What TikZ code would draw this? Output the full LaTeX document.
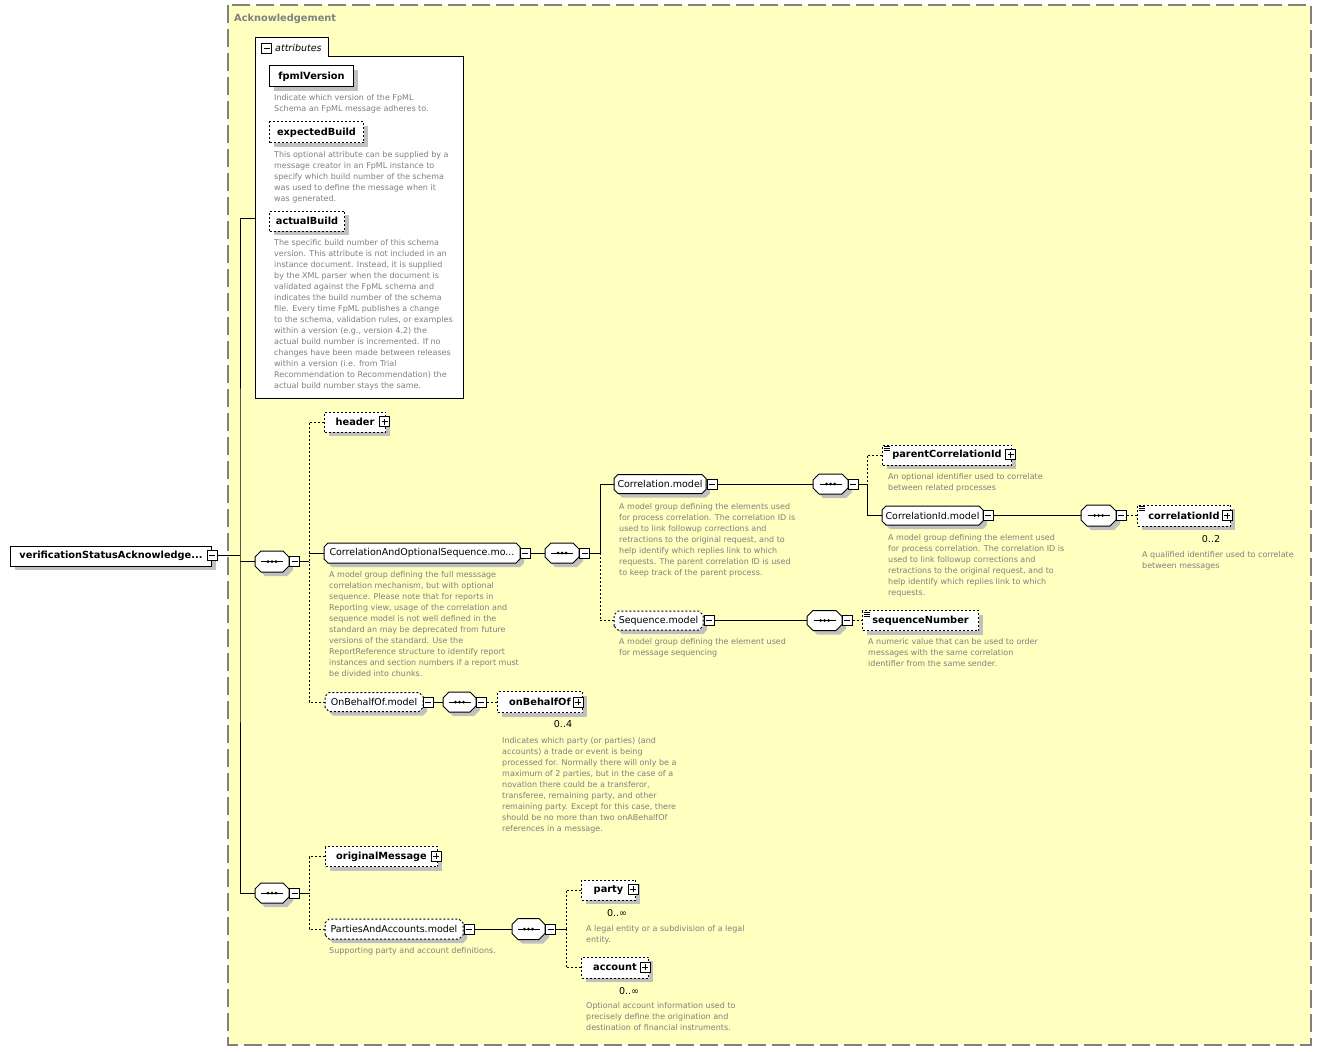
\documentclass[tikz,border=0pt]{standalone}
\usepackage{fontspec}
\setmainfont{DejaVu Sans}
\usetikzlibrary{shadows}
\definecolor{ackyellow}{RGB}{255,255,192}
\definecolor{framegray}{RGB}{128,128,128}
\definecolor{descgray}{RGB}{128,128,128}
\definecolor{shadowgray}{RGB}{192,192,192}
\newcommand{\lblfont}{\fontsize{9.8}{12}\selectfont}
\newcommand{\grpfont}{\fontsize{9.5}{12}\selectfont}
\newcommand{\dscfont}{\fontsize{8}{11}\selectfont}

\makeatletter
\newdimen\octL \newdimen\octR \newdimen\octB \newdimen\octT \newdimen\octC
\pgfkeys{/pgf/octbox cut/.initial=4pt}
\pgfdeclareshape{octbox}{%
  \inheritsavedanchors[from=rectangle]%
  \inheritanchorborder[from=rectangle]%
  \inheritanchor[from=rectangle]{center}%
  \inheritanchor[from=rectangle]{north}%
  \inheritanchor[from=rectangle]{south}%
  \inheritanchor[from=rectangle]{east}%
  \inheritanchor[from=rectangle]{west}%
  \inheritanchor[from=rectangle]{north west}%
  \inheritanchor[from=rectangle]{north east}%
  \inheritanchor[from=rectangle]{south west}%
  \inheritanchor[from=rectangle]{south east}%
  \inheritanchor[from=rectangle]{base}%
  \inheritanchor[from=rectangle]{mid}%
  \backgroundpath{%
    \southwest \octL=\pgf@x \octB=\pgf@y
    \northeast \octR=\pgf@x \octT=\pgf@y
    \pgfmathsetlength\octC{\pgfkeysvalueof{/pgf/octbox cut}}%
    \pgfpathmoveto{\pgfpoint{\octL}{\octB+\octC}}%
    \pgfpathlineto{\pgfpoint{\octL}{\octT-\octC}}%
    \pgfpathlineto{\pgfpoint{\octL+\octC}{\octT}}%
    \pgfpathlineto{\pgfpoint{\octR-\octC}{\octT}}%
    \pgfpathlineto{\pgfpoint{\octR}{\octT-\octC}}%
    \pgfpathlineto{\pgfpoint{\octR}{\octB+\octC}}%
    \pgfpathlineto{\pgfpoint{\octR-\octC}{\octB}}%
    \pgfpathlineto{\pgfpoint{\octL+\octC}{\octB}}%
    \pgfpathclose
  }%
}
\makeatother

\begin{document}
\begin{tikzpicture}[x=1pt,y=-1pt,
  myshadow/.style={drop shadow={shadow xshift=4pt,shadow yshift=-4pt,fill=shadowgray,opacity=1}},
  elem/.style={rectangle,draw,fill=white,line width=1pt,font=\lblfont\bfseries,
    minimum height=20pt,inner sep=0pt,anchor=west,myshadow},
  optelem/.style={elem,dash pattern=on 2pt off 2pt},
  group/.style={octbox,octbox cut=4pt,draw,fill=white,line width=1pt,font=\grpfont,
    minimum height=19pt,inner sep=0pt,outer sep=0pt,anchor=west,myshadow},
  optgroup/.style={group,dash pattern=on 2pt off 2pt},
  seqbox/.style={octbox,octbox cut=6pt,draw,fill=white,line width=1pt,minimum height=20pt,
    inner sep=0pt,outer sep=0pt,anchor=west,myshadow,
    path picture={\draw[solid,black,line width=1pt] ([xshift=-11]path picture bounding box.center)
      -- ([xshift=11]path picture bounding box.center);
      \foreach \d in {-4,0,4} \fill[black] ([xshift=\d]path picture bounding box.center) circle (1.5pt);}},
  minusbtn/.style={rectangle,draw,fill=white,line width=1pt,minimum size=10pt,inner sep=0pt,
    path picture={\draw[solid,line width=1pt] ([xshift=2]path picture bounding box.west)
      -- ([xshift=-2]path picture bounding box.east);}},
  plusbtn/.style={minusbtn,
    path picture={\draw[solid,line width=1pt] ([xshift=2]path picture bounding box.west)
      -- ([xshift=-2]path picture bounding box.east)
      ([yshift=2]path picture bounding box.south) -- ([yshift=-2]path picture bounding box.north);}},
  simple/.style={path picture={\foreach \k in {1.5,3.5,5.5}
      \draw[solid,line width=0.8pt] ([xshift=1,yshift=-\k]path picture bounding box.north west) -- ++(6pt,0);}},
  desc/.style={anchor=north west,align=left,inner sep=0pt,font=\dscfont,text=descgray},
  occurs/.style={font=\grpfont,inner sep=0pt},
  link/.style={line width=1pt},
  optlink/.style={link,dash pattern=on 2pt off 2pt}]

\useasboundingbox (0,0) rectangle (1321,1051);
\fill[white] (0,0) rectangle (1321,1051);
\draw[draw=framegray,line width=1.5pt,dash pattern=on 18pt off 6pt,fill=ackyellow]
  (228,5) rectangle (1311,1045);
\node[anchor=west,inner sep=0pt,font=\lblfont\bfseries,text=framegray] (ack) at (234,19) {Acknowledgement};

% attributes
\draw[line width=1pt,fill=white] (255,38) -- (328,38) -- (328,57) -- (463,57) -- (463,398) -- (255,398) -- cycle;
\node[minusbtn] (attrs-b) at (266.5,49) {};
\node[anchor=west,inner sep=0pt,font=\grpfont\itshape] (attrs-t) at (275,48) {attributes};
\coordinate (attrs-in) at (255,218);

\node[elem,minimum width=84pt,minimum height=21pt] (fpml) at (269,76.5) {fpmlVersion};
\node[desc] (fpml-d) at (274,94.5) {Indicate which version of the FpML\\Schema an FpML message adheres to.};
\node[optelem,minimum width=94pt,minimum height=21pt] (expb) at (269,132.5) {expectedBuild};
\node[desc] (expb-d) at (274,151.5) {This optional attribute can be supplied by a\\message creator in an FpML instance to\\specify which build number of the schema\\was used to define the message when it\\was generated.};
\node[optelem,minimum width=75pt] (actb) at (269,221) {actualBuild};
\node[desc] (actb-d) at (274,239.5) {The specific build number of this schema\\version. This attribute is not included in an\\instance document. Instead, it is supplied\\by the XML parser when the document is\\validated against the FpML schema and\\indicates the build number of the schema\\file. Every time FpML publishes a change\\to the schema, validation rules, or examples\\within a version (e.g., version 4.2) the\\actual build number is incremented. If no\\changes have been made between releases\\within a version (i.e. from Trial\\Recommendation to Recommendation) the\\actual build number stays the same.};

% root and first sequence
\node[elem,minimum width=201pt] (verif) at (10,556) {verificationStatusAcknowledge...};
\node[minusbtn] (verif-b) at (212,555) {};
\node[seqbox,minimum width=34pt,minimum height=21pt] (comp1) at (255,561.5) {};
\node[minusbtn] (comp1-b) at (294.5,561.5) {};

\node[optelem,minimum width=61pt] (header) at (324,422) {header};
\node[plusbtn] (header-b) at (384.5,421.5) {};

\node[group,minimum width=196pt,minimum height=20pt] (corrseq) at (324,553) {CorrelationAndOptionalSequence.mo...};
\node[minusbtn] (corrseq-b) at (525,553) {};
\node[desc] (corrseq-d) at (329,571.5) {A model group defining the full messsage\\correlation mechanism, but with optional\\sequence. Please note that for reports in\\Reporting view, usage of the correlation and\\sequence model is not well defined in the\\standard an may be deprecated from future\\versions of the standard. Use the\\ReportReference structure to identify report\\instances and section numbers if a report must\\be divided into chunks.};
\node[seqbox,minimum width=34pt] (comp2) at (545,553) {};
\node[minusbtn] (comp2-b) at (584.5,553) {};

\node[group,minimum width=92pt] (corrmodel) at (614,484) {Correlation.model};
\node[minusbtn] (corrmodel-b) at (712,484) {};
\node[desc] (corrmodel-d) at (619,503.5) {A model group defining the elements used\\for process correlation. The correlation ID is\\used to link followup corrections and\\retractions to the original request, and to\\help identify which replies link to which\\requests. The parent correlation ID is used\\to keep track of the parent process.};
\node[seqbox,minimum width=35pt] (comp3) at (813,484) {};
\node[minusbtn] (comp3-b) at (853,484) {};

\node[optelem,simple,minimum width=129pt] (parentcorr) at (882,455) {parentCorrelationId};
\node[plusbtn] (parentcorr-b) at (1010.5,454.5) {};
\node[desc] (parentcorr-d) at (888,473.5) {An optional identifier used to correlate\\between related processes};

\node[group,minimum width=101pt] (corridmodel) at (882,515.5) {CorrelationId.model};
\node[minusbtn] (corridmodel-b) at (988,515.5) {};
\node[desc] (corridmodel-d) at (888,534.5) {A model group defining the element used\\for process correlation. The correlation ID is\\used to link followup corrections and\\retractions to the original request, and to\\help identify which replies link to which\\requests.};
\node[seqbox,minimum width=35pt,minimum height=21pt] (comp5) at (1081,515.5) {};
\node[minusbtn] (comp5-b) at (1121,515.5) {};
\node[optelem,simple,minimum width=93pt,minimum height=21pt] (corrid) at (1137,515.5) {correlationId};
\node[plusbtn] (corrid-b) at (1227,515.5) {};
\node[occurs] (corrid-o) at (1211,539) {0..2};
\node[desc] (corrid-d) at (1142,551.5) {A qualified identifier used to correlate\\between messages};

\node[optgroup,minimum width=89pt] (seqmodel) at (614,620.5) {Sequence.model};
\node[minusbtn] (seqmodel-b) at (709,620.5) {};
\node[desc] (seqmodel-d) at (619,638.5) {A model group defining the element used\\for message sequencing};
\node[seqbox,minimum width=35pt] (comp4) at (807,620.5) {};
\node[minusbtn] (comp4-b) at (847,620.5) {};
\node[optelem,simple,minimum width=116pt] (seqnum) at (862,620.5) {sequenceNumber};
\node[desc] (seqnum-d) at (868,638.5) {A numeric value that can be used to order\\messages with the same correlation\\identifier from the same sender.};

\node[optgroup,minimum width=98pt] (obomodel) at (325,702) {OnBehalfOf.model};
\node[minusbtn] (obomodel-b) at (428,702) {};
\node[seqbox,minimum width=33pt] (comp6) at (443,702) {};
\node[minusbtn] (comp6-b) at (481,702) {};
\node[optelem,minimum width=85pt,minimum height=21pt] (obo) at (497,702) {onBehalfOf};
\node[plusbtn] (obo-b) at (578,702) {};
\node[occurs] (obo-o) at (563,724) {0..4};
\node[desc] (obo-d) at (502,737.5) {Indicates which party (or parties) (and\\accounts) a trade or event is being\\processed for. Normally there will only be a\\maximum of 2 parties, but in the case of a\\novation there could be a transferor,\\transferee, remaining party, and other\\remaining party. Except for this case, there\\should be no more than two onABehalfOf\\references in a message.};

% second sequence
\node[seqbox,minimum width=34pt] (comp7) at (255,893) {};
\node[minusbtn] (comp7-b) at (294.5,893) {};
\node[optelem,minimum width=112pt] (origmsg) at (325,856.5) {originalMessage};
\node[plusbtn] (origmsg-b) at (436,856) {};
\node[optgroup,minimum width=138pt,minimum height=20pt] (pamodel) at (325,929) {PartiesAndAccounts.model};
\node[minusbtn] (pamodel-b) at (469,929) {};
\node[desc] (pamodel-d) at (329,947.5) {Supporting party and account definitions.};
\node[seqbox,minimum width=33pt,minimum height=21pt] (comp8) at (512,929) {};
\node[minusbtn] (comp8-b) at (550.5,929) {};
\node[optelem,minimum width=54pt] (party) at (581,890) {party};
\node[plusbtn] (party-b) at (633,889) {};
\node[occurs] (party-o) at (617,913) {0..∞};
\node[desc] (party-d) at (586,925.5) {A legal entity or a subdivision of a legal\\entity.};
\node[optelem,minimum width=67pt,minimum height=21pt] (account) at (581,967.5) {account};
\node[plusbtn] (account-b) at (645,967) {};
\node[occurs] (account-o) at (629,991) {0..∞};
\node[desc] (account-d) at (586,1002.5) {Optional account information used to\\precisely define the origination and\\destination of financial instruments.};

% connectors
\coordinate (trunk) at (240,555);
\coordinate (fork1) at (309,561.5);
\coordinate (fork2) at (600,553);
\coordinate (fork3) at (867,484);
\coordinate (fork7) at (309,893);
\coordinate (fork8) at (566,929);

\draw[link] (verif-b.east) -- (trunk);
\draw[link] (attrs-in) -| (trunk) |- (comp7.west);
\draw[link] (trunk |- comp1.west) -- (comp1.west);
\draw[link] (comp1-b.east) -- (fork1);
\draw[optlink] (header.west) -| (fork1);
\draw[link] (fork1 |- corrseq.west) -- (corrseq.west);
\draw[optlink] (obomodel.west) -| (fork1);
\draw[link] (corrseq-b.east) -- (comp2.west);
\draw[link] (comp2-b.east) -- (fork2);
\draw[link] (corrmodel.west) -| (fork2);
\draw[optlink] (seqmodel.west) -| (fork2);
\draw[link] (corrmodel-b.east) -- (comp3.west);
\draw[link] (comp3-b.east) -- (fork3);
\draw[optlink] (parentcorr.west) -| (fork3);
\draw[link] (corridmodel.west) -| (fork3);
\draw[link] (corridmodel-b.east) -- (comp5.west);
\draw[optlink] (comp5-b.east) -- (corrid.west);
\draw[link] (seqmodel-b.east) -- (comp4.west);
\draw[optlink] (comp4-b.east) -- (seqnum.west);
\draw[link] (obomodel-b.east) -- (comp6.west);
\draw[optlink] (comp6-b.east) -- (obo.west);
\draw[link] (comp7-b.east) -- (fork7);
\draw[optlink] (origmsg.west) -| (fork7);
\draw[optlink] (pamodel.west) -| (fork7);
\draw[link] (pamodel-b.east) -- (comp8.west);
\draw[link] (comp8-b.east) -- (fork8);
\draw[optlink] (party.west) -| (fork8);
\draw[optlink] (account.west) -| (fork8);
\end{tikzpicture}
\end{document}
